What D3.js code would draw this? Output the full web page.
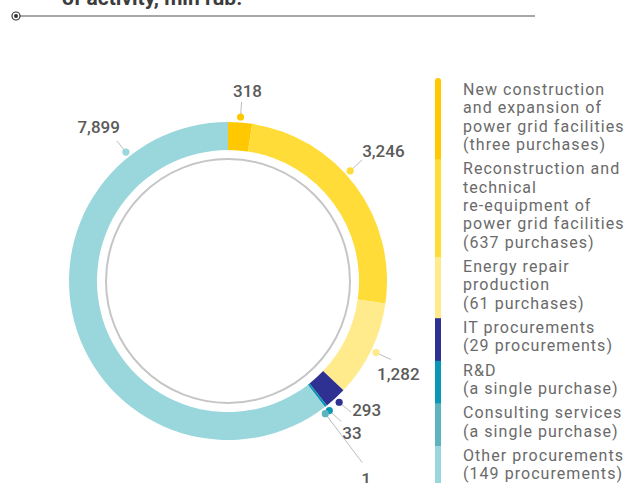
<!DOCTYPE html>
<html>
<head>
<meta charset="utf-8">
<script src="https://cdn.jsdelivr.net/npm/d3@7"></script>
<style>
  body { margin: 0; background: #fff; }
  svg { display: block; font-family: Roboto, "DejaVu Sans", sans-serif; }
</style>
</head>
<body>
<svg id="chart" width="638" height="483"></svg>
<script>
// volumes by type of activity, mln rub.
var categories = ["New construction", "Reconstruction", "Energy repair", "IT", "R&D", "Consulting", "Other"];
var values = [318, 3246, 1282, 293, 33, 1, 7899];
var valueLabels = ["318", "3,246", "1,282", "293", "33", "1", "7,899"];
var legendLines = [
  ["New construction", "and expansion of", "power grid facilities", "(three purchases)"],
  ["Reconstruction and", "technical", "re-equipment of", "power grid facilities", "(637 purchases)"],
  ["Energy repair", "production", "(61 purchases)"],
  ["IT procurements", "(29 procurements)"],
  ["R&D", "(a single purchase)"],
  ["Consulting services", "(a single purchase)"],
  ["Other procurements", "(149 procurements)"]
];
var colors = ["#ffc800", "#ffdc37", "#ffeb8c", "#2e3192", "#0a97b5", "#5db4be", "#9ad7dd"];

// label placement tweaks (degrees shift from mid angle, leader end, text offset, anchor)
var labelShift = [0, -5.5, 0, 0, 0, 1.3, 70.4];
var leaderEnd = [[1, -15], [12, -11], [15, 7], [12, 10], [12, 11], [37, 49], [-9, -11]];
var textOff = [[6, -5], [0, -3], [-14, 20], [1, 4], [1, 17], [-1, 22], [3, -8]];
var textAnchor = ["middle", "start", "start", "start", "start", "start", "end"];

var svg = d3.select("#chart");
var cx = 228, cy = 281;
var outerR = 159, innerR = 131, ringR = 122, dotR = 164.5;

// header remnant
svg.append("text").attr("x", 62).attr("y", 5)
  .style("font-size", "21px").style("font-weight", "bold").style("fill", "#3c3c3c")
  .text("of activity, mln rub.");
svg.append("line").attr("x1", 20).attr("x2", 535).attr("y1", 16).attr("y2", 16)
  .attr("stroke", "#8a8a8a").attr("stroke-width", 1.5);
svg.append("circle").attr("cx", 16).attr("cy", 16).attr("r", 4)
  .attr("fill", "#fff").attr("stroke", "#333").attr("stroke-width", 1.2);
svg.append("circle").attr("cx", 16).attr("cy", 16).attr("r", 2).attr("fill", "#333");

var g = svg.append("g").attr("transform", "translate(" + cx + "," + cy + ")");

g.append("circle").attr("r", ringR).attr("fill", "none")
  .attr("stroke", "#c6c6c6").attr("stroke-width", 2);

var pie = d3.pie().sort(null).value(function(d) { return d; });
var arcs = pie(values);
var arc = d3.arc().innerRadius(innerR).outerRadius(outerR);

g.selectAll("path.slice").data(arcs).enter().append("path")
  .attr("class", "slice")
  .attr("d", arc)
  .attr("fill", function(d, i) { return colors[i]; });

// labels
arcs.forEach(function(d, i) {
  var a = (d.startAngle + d.endAngle) / 2 + labelShift[i] * Math.PI / 180;
  var x = dotR * Math.sin(a), y = -dotR * Math.cos(a);
  var ex = x + leaderEnd[i][0], ey = y + leaderEnd[i][1];
  g.append("line").attr("x1", x).attr("y1", y).attr("x2", ex).attr("y2", ey)
    .attr("stroke", "#bdbdbd").attr("stroke-width", 1);
  g.append("circle").attr("cx", x).attr("cy", y).attr("r", 3.6).attr("fill", colors[i]);
  g.append("text").attr("x", ex + textOff[i][0]).attr("y", ey + textOff[i][1])
    .attr("text-anchor", textAnchor[i])
    .style("font-size", "17px").style("font-weight", 500).style("fill", "#5a5a5a")
    .text(valueLabels[i]);
});

// legend
var lineH = 18.4, groupGap = 5.8;
var lg = svg.append("g");
var y0 = 80;
legendLines.forEach(function(lines, i) {
  var h = lines.length * lineH + groupGap;
  lg.append("rect").attr("x", 435).attr("y", y0).attr("width", 6).attr("height", h + 0.5)
    .attr("fill", colors[i]);
  lines.forEach(function(t, j) {
    lg.append("text").attr("x", 463).attr("y", y0 + 14.8 + j * lineH)
      .style("font-size", "16px").style("letter-spacing", "1.05px").style("fill", "#6a6a6a")
      .text(t);
  });
  y0 += h;
});
// rounded top of the legend bar
lg.append("rect").attr("x", 435).attr("y", 78).attr("width", 6).attr("height", 8)
  .attr("rx", 3).attr("fill", colors[0]);
</script>
</body>
</html>
